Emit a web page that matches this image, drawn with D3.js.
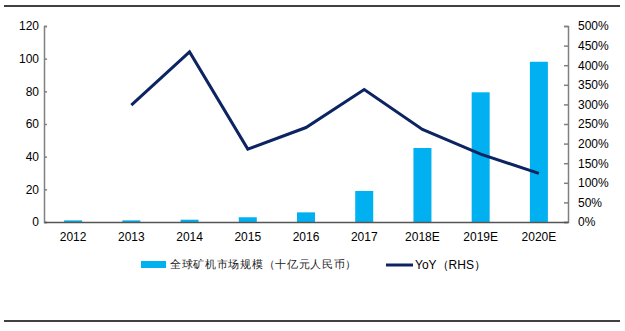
<!DOCTYPE html>
<html><head><meta charset="utf-8">
<script src="https://cdn.jsdelivr.net/npm/d3@7/dist/d3.min.js"></script>
<style>body{margin:0;background:#fff}svg{display:block}text{font-family:"Liberation Sans",Arial,sans-serif}</style>
</head><body>
<svg id="c" width="625" height="331"></svg>
<script>
const categories = ["2012","2013","2014","2015","2016","2017","2018E","2019E","2020E"];
const marketSize = [1.0, 1.0, 1.4, 2.9, 5.9, 19.0, 45.3, 79.4, 98.1];
const yoy = [null, 298, 434, 186, 241, 338, 236, 173, 124];
const leftTicks = [0,20,40,60,80,100,120];
const rightTicks = [0,50,100,150,200,250,300,350,400,450,500];
const barName = "全球矿机市场规模（十亿元人民币）";
const lineName = "YoY（RHS）";

const svg = d3.select("#c");
const L = 44, R = 568, T = 26, B = 222;
const x = d3.scaleBand().domain(categories).range([L, R]);
const yL = d3.scaleLinear().domain([0,120]).range([B, T]);
const yR = d3.scaleLinear().domain([0,500]).range([B, T]);

// frame lines
svg.append("line").attr("x1",4).attr("x2",620).attr("y1",6).attr("y2",6).attr("stroke","#000").attr("stroke-width",1.5);
svg.append("line").attr("x1",4).attr("x2",620).attr("y1",321).attr("y2",321).attr("stroke","#000").attr("stroke-width",1.5);

// bars
const bw = 18;
svg.selectAll("rect.bar").data(categories).enter().append("rect")
  .attr("x", d => x(d) + x.bandwidth()/2 - bw/2)
  .attr("width", bw)
  .attr("y", (d,i) => yL(marketSize[i]))
  .attr("height", (d,i) => B - yL(marketSize[i]))
  .attr("fill", "#00B0F0");

// axes
const axisColor = "#808080";
const gl = svg.append("g").attr("transform",`translate(${L},0)`)
  .call(d3.axisRight(yL).tickValues(leftTicks).tickSize(3).tickFormat(d3.format("d")));
gl.selectAll("text").attr("x",-5).attr("text-anchor","end");
const gr = svg.append("g").attr("transform",`translate(${R},0)`)
  .call(d3.axisLeft(yR).tickValues(rightTicks).tickSize(4).tickFormat(d => d + "%"));
gr.selectAll("text").attr("x",10).attr("text-anchor","start");
[gl, gr].forEach(g => {
  g.select(".domain").attr("stroke",axisColor).attr("stroke-width",1.5);
  g.selectAll(".tick line").attr("stroke",axisColor).attr("stroke-width",1.5);
  g.selectAll("text").attr("font-size",12).attr("fill","#000").attr("font-family","'Liberation Sans',Arial,sans-serif");
});
const gx = svg.append("g").attr("transform",`translate(0,${B})`)
  .call(d3.axisBottom(x).tickSize(0).tickPadding(10));
gx.select(".domain").attr("stroke","#555").attr("stroke-width",1.5);
gx.selectAll("text").attr("font-size",12).attr("fill","#000").attr("font-family","'Liberation Sans',Arial,sans-serif");

// line
const line = d3.line().defined(d => d.v != null)
  .x(d => x(d.c) + x.bandwidth()/2).y(d => yR(d.v));
svg.append("path").datum(categories.map((c,i)=>({c, v: yoy[i]})))
  .attr("d", line).attr("fill","none").attr("stroke","#0C2461").attr("stroke-width",3).attr("stroke-linejoin","miter");

// legend
const ly = 264;
svg.append("rect").attr("x",141).attr("y",ly-3).attr("width",25).attr("height",7).attr("fill","#00B0F0");
svg.append("text").attr("x",170).attr("y",ly+4).attr("font-size",11).attr("letter-spacing",0.7).attr("font-family","'Noto Sans CJK SC',sans-serif").attr("fill","#222").text(barName);
svg.append("line").attr("x1",386).attr("x2",413).attr("y1",ly+1).attr("y2",ly+1).attr("stroke","#0C2461").attr("stroke-width",3);
svg.append("text").attr("x",415).attr("y",ly+5).attr("font-size",12).attr("fill","#000").text(lineName);
</script>
</body></html>
